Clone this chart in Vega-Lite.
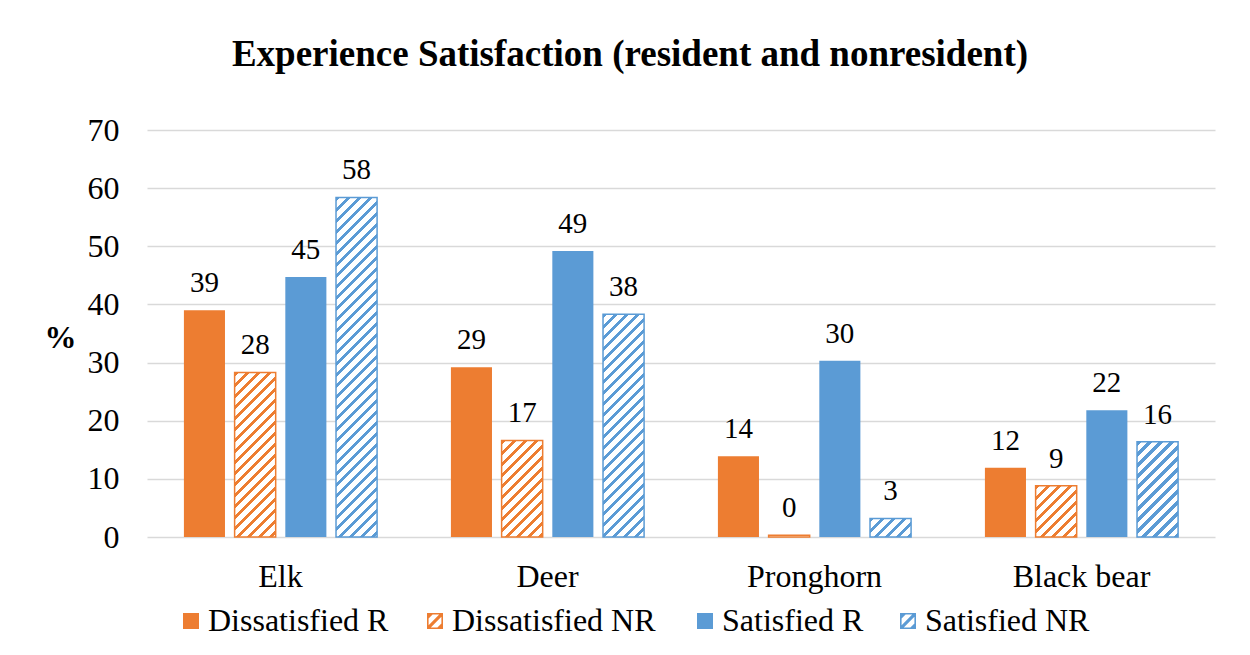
{
"$schema":"https://vega.github.io/schema/vega-lite/v6.json",
"width":1068,"height":407,
"autosize":{"type":"none"},
"padding":{"left":147,"top":130,"right":35,"bottom":118},
"background":"white",
"config":{"font":"Liberation Serif","view":{"stroke":null},"axis":{"labelColor":"#000","titleColor":"#000","labelFont":"Liberation Serif","titleFont":"Liberation Serif"}},
"title":{"text":"Experience Satisfaction (resident and nonresident)","font":"Liberation Serif","fontSize":37,"fontWeight":"bold","color":"#000","offset":40,"dx":-51},
"data":{"values":[
{"animal":"Elk","series":"Dissatisfied R","value":39.0},
{"animal":"Elk","series":"Dissatisfied NR","value":28.3},
{"animal":"Elk","series":"Satisfied R","value":44.7},
{"animal":"Elk","series":"Satisfied NR","value":58.4},
{"animal":"Deer","series":"Dissatisfied R","value":29.2},
{"animal":"Deer","series":"Dissatisfied NR","value":16.6},
{"animal":"Deer","series":"Satisfied R","value":49.2},
{"animal":"Deer","series":"Satisfied NR","value":38.3},
{"animal":"Pronghorn","series":"Dissatisfied R","value":13.9},
{"animal":"Pronghorn","series":"Dissatisfied NR","value":0.3},
{"animal":"Pronghorn","series":"Satisfied R","value":30.3},
{"animal":"Pronghorn","series":"Satisfied NR","value":3.2},
{"animal":"Black bear","series":"Dissatisfied R","value":11.9},
{"animal":"Black bear","series":"Dissatisfied NR","value":8.8},
{"animal":"Black bear","series":"Satisfied R","value":21.8},
{"animal":"Black bear","series":"Satisfied NR","value":16.4}
]},
"encoding":{
"x":{"field":"animal","type":"nominal","sort":["Elk","Deer","Pronghorn","Black bear"],"scale":{"paddingInner":0,"paddingOuter":0},"axis":{"title":null,"labelAngle":0,"labelFontSize":32,"labelPadding":24,"ticks":false,"domain":false,"grid":false}},
"xOffset":{"field":"series","type":"nominal","sort":["Dissatisfied R","Dissatisfied NR","Satisfied R","Satisfied NR"],"scale":{"paddingInner":0.19,"paddingOuter":0.728}},
"y":{"field":"value","type":"quantitative","scale":{"domain":[0,70],"nice":false},"axis":{"values":[0,10,20,30,40,50,60,70],"title":"%","titleAngle":0,"titleFontSize":32,"titleFontWeight":"bold","titleX":-87,"titleY":207,"titleAlign":"center","titleBaseline":"middle","labelFontSize":32,"labelPadding":28,"ticks":false,"domain":false,"gridColor":"#d9d9d9","gridWidth":1.5}}
},
"layer":[
{"mark":{"type":"bar"},
"encoding":{
"stroke":{"field":"series","type":"nominal","scale":{"range":["#ED7D31","#ED7D31","#5B9BD5","#5B9BD5"]},
"legend":{"values":["Dissatisfied R","Satisfied R"],"orient":"none","legendX":28,"legendY":475,"direction":"horizontal","title":null,"symbolType":"square","symbolSize":64,"symbolStrokeWidth":8,"symbolFillColor":"transparent","labelFontSize":32,"labelFont":"Liberation Serif","labelColor":"#000","labelOffset":1,"labelLimit":0,"columnPadding":296,"padding":0,"labelBaseline":"middle"}},
"strokeWidth":{"condition":{"test":"indexof(datum.series,'NR')>=0","value":1.5},"value":0},
"fill":{"field":"series","type":"nominal",
"scale":{"domain":["Dissatisfied R","Dissatisfied NR","Satisfied R","Satisfied NR"],"range":["#ED7D31","#ED7D31","#5B9BD5","#5B9BD5"]},
"legend":{"values":["Dissatisfied NR","Satisfied NR"],"orient":"none","legendX":272,"legendY":475,"direction":"horizontal","title":null,"symbolType":"M-1,-1L1,-1L1,1L-1,1ZM-0.8,-0.8L-0.8,0.8L0.8,0.8L0.8,-0.8ZM-0.8,0.525L-0.8,0.8L-0.525,0.8L0.8,-0.525L0.8,-0.8L0.525,-0.8ZM0.3,0.8L0.8,0.8L0.8,0.3ZM-0.8,-0.3L-0.8,-0.8L-0.3,-0.8Z","symbolSize":256,"symbolStrokeWidth":0,"symbolStrokeColor":"transparent","labelFontSize":32,"labelFont":"Liberation Serif","labelColor":"#000","labelOffset":1,"labelLimit":0,"columnPadding":236,"padding":0,"labelBaseline":"middle"},
"condition":[
{"test":"datum.animal==='Elk' && datum.series==='Dissatisfied NR'","value":{"gradient":"linear","x1":0,"y1":0,"x2":0.31417,"y2":1.25865,"stops":[
{"offset":0,"color":"#ED7D31"},{"offset":0.02,"color":"#ED7D31"},{"offset":0.02,"color":"#fff"},{"offset":0.05,"color":"#fff"},
{"offset":0.05,"color":"#ED7D31"},{"offset":0.07,"color":"#ED7D31"},{"offset":0.07,"color":"#fff"},{"offset":0.1,"color":"#fff"},
{"offset":0.1,"color":"#ED7D31"},{"offset":0.12,"color":"#ED7D31"},{"offset":0.12,"color":"#fff"},{"offset":0.15,"color":"#fff"},
{"offset":0.15,"color":"#ED7D31"},{"offset":0.17,"color":"#ED7D31"},{"offset":0.17,"color":"#fff"},{"offset":0.2,"color":"#fff"},
{"offset":0.2,"color":"#ED7D31"},{"offset":0.22,"color":"#ED7D31"},{"offset":0.22,"color":"#fff"},{"offset":0.25,"color":"#fff"},
{"offset":0.25,"color":"#ED7D31"},{"offset":0.27,"color":"#ED7D31"},{"offset":0.27,"color":"#fff"},{"offset":0.3,"color":"#fff"},
{"offset":0.3,"color":"#ED7D31"},{"offset":0.32,"color":"#ED7D31"},{"offset":0.32,"color":"#fff"},{"offset":0.35,"color":"#fff"},
{"offset":0.35,"color":"#ED7D31"},{"offset":0.37,"color":"#ED7D31"},{"offset":0.37,"color":"#fff"},{"offset":0.4,"color":"#fff"},
{"offset":0.4,"color":"#ED7D31"},{"offset":0.42,"color":"#ED7D31"},{"offset":0.42,"color":"#fff"},{"offset":0.45,"color":"#fff"},
{"offset":0.45,"color":"#ED7D31"},{"offset":0.47,"color":"#ED7D31"},{"offset":0.47,"color":"#fff"},{"offset":0.5,"color":"#fff"},
{"offset":0.5,"color":"#ED7D31"},{"offset":0.52,"color":"#ED7D31"},{"offset":0.52,"color":"#fff"},{"offset":0.55,"color":"#fff"},
{"offset":0.55,"color":"#ED7D31"},{"offset":0.57,"color":"#ED7D31"},{"offset":0.57,"color":"#fff"},{"offset":0.6,"color":"#fff"},
{"offset":0.6,"color":"#ED7D31"},{"offset":0.62,"color":"#ED7D31"},{"offset":0.62,"color":"#fff"},{"offset":0.65,"color":"#fff"},
{"offset":0.65,"color":"#ED7D31"},{"offset":0.67,"color":"#ED7D31"},{"offset":0.67,"color":"#fff"},{"offset":0.7,"color":"#fff"},
{"offset":0.7,"color":"#ED7D31"},{"offset":0.72,"color":"#ED7D31"},{"offset":0.72,"color":"#fff"},{"offset":0.75,"color":"#fff"},
{"offset":0.75,"color":"#ED7D31"},{"offset":0.77,"color":"#ED7D31"},{"offset":0.77,"color":"#fff"},{"offset":0.8,"color":"#fff"},
{"offset":0.8,"color":"#ED7D31"},{"offset":0.82,"color":"#ED7D31"},{"offset":0.82,"color":"#fff"},{"offset":0.85,"color":"#fff"},
{"offset":0.85,"color":"#ED7D31"},{"offset":0.87,"color":"#ED7D31"},{"offset":0.87,"color":"#fff"},{"offset":0.9,"color":"#fff"},
{"offset":0.9,"color":"#ED7D31"},{"offset":0.92,"color":"#ED7D31"},{"offset":0.92,"color":"#fff"},{"offset":0.95,"color":"#fff"},
{"offset":0.95,"color":"#ED7D31"},{"offset":0.97,"color":"#ED7D31"},{"offset":0.97,"color":"#fff"},{"offset":1,"color":"#fff"}]}},
{"test":"datum.animal==='Elk' && datum.series==='Satisfied NR'","value":{"gradient":"linear","x1":0,"y1":0,"x2":0.15448,"y2":1.27715,"stops":[
{"offset":0,"color":"#5B9BD5"},{"offset":0.01,"color":"#5B9BD5"},{"offset":0.01,"color":"#fff"},{"offset":0.025,"color":"#fff"},
{"offset":0.025,"color":"#5B9BD5"},{"offset":0.035,"color":"#5B9BD5"},{"offset":0.035,"color":"#fff"},{"offset":0.05,"color":"#fff"},
{"offset":0.05,"color":"#5B9BD5"},{"offset":0.06,"color":"#5B9BD5"},{"offset":0.06,"color":"#fff"},{"offset":0.075,"color":"#fff"},
{"offset":0.075,"color":"#5B9BD5"},{"offset":0.085,"color":"#5B9BD5"},{"offset":0.085,"color":"#fff"},{"offset":0.1,"color":"#fff"},
{"offset":0.1,"color":"#5B9BD5"},{"offset":0.11,"color":"#5B9BD5"},{"offset":0.11,"color":"#fff"},{"offset":0.125,"color":"#fff"},
{"offset":0.125,"color":"#5B9BD5"},{"offset":0.135,"color":"#5B9BD5"},{"offset":0.135,"color":"#fff"},{"offset":0.15,"color":"#fff"},
{"offset":0.15,"color":"#5B9BD5"},{"offset":0.16,"color":"#5B9BD5"},{"offset":0.16,"color":"#fff"},{"offset":0.175,"color":"#fff"},
{"offset":0.175,"color":"#5B9BD5"},{"offset":0.185,"color":"#5B9BD5"},{"offset":0.185,"color":"#fff"},{"offset":0.2,"color":"#fff"},
{"offset":0.2,"color":"#5B9BD5"},{"offset":0.21,"color":"#5B9BD5"},{"offset":0.21,"color":"#fff"},{"offset":0.225,"color":"#fff"},
{"offset":0.225,"color":"#5B9BD5"},{"offset":0.235,"color":"#5B9BD5"},{"offset":0.235,"color":"#fff"},{"offset":0.25,"color":"#fff"},
{"offset":0.25,"color":"#5B9BD5"},{"offset":0.26,"color":"#5B9BD5"},{"offset":0.26,"color":"#fff"},{"offset":0.275,"color":"#fff"},
{"offset":0.275,"color":"#5B9BD5"},{"offset":0.285,"color":"#5B9BD5"},{"offset":0.285,"color":"#fff"},{"offset":0.3,"color":"#fff"},
{"offset":0.3,"color":"#5B9BD5"},{"offset":0.31,"color":"#5B9BD5"},{"offset":0.31,"color":"#fff"},{"offset":0.325,"color":"#fff"},
{"offset":0.325,"color":"#5B9BD5"},{"offset":0.335,"color":"#5B9BD5"},{"offset":0.335,"color":"#fff"},{"offset":0.35,"color":"#fff"},
{"offset":0.35,"color":"#5B9BD5"},{"offset":0.36,"color":"#5B9BD5"},{"offset":0.36,"color":"#fff"},{"offset":0.375,"color":"#fff"},
{"offset":0.375,"color":"#5B9BD5"},{"offset":0.385,"color":"#5B9BD5"},{"offset":0.385,"color":"#fff"},{"offset":0.4,"color":"#fff"},
{"offset":0.4,"color":"#5B9BD5"},{"offset":0.41,"color":"#5B9BD5"},{"offset":0.41,"color":"#fff"},{"offset":0.425,"color":"#fff"},
{"offset":0.425,"color":"#5B9BD5"},{"offset":0.435,"color":"#5B9BD5"},{"offset":0.435,"color":"#fff"},{"offset":0.45,"color":"#fff"},
{"offset":0.45,"color":"#5B9BD5"},{"offset":0.46,"color":"#5B9BD5"},{"offset":0.46,"color":"#fff"},{"offset":0.475,"color":"#fff"},
{"offset":0.475,"color":"#5B9BD5"},{"offset":0.485,"color":"#5B9BD5"},{"offset":0.485,"color":"#fff"},{"offset":0.5,"color":"#fff"},
{"offset":0.5,"color":"#5B9BD5"},{"offset":0.51,"color":"#5B9BD5"},{"offset":0.51,"color":"#fff"},{"offset":0.525,"color":"#fff"},
{"offset":0.525,"color":"#5B9BD5"},{"offset":0.535,"color":"#5B9BD5"},{"offset":0.535,"color":"#fff"},{"offset":0.55,"color":"#fff"},
{"offset":0.55,"color":"#5B9BD5"},{"offset":0.56,"color":"#5B9BD5"},{"offset":0.56,"color":"#fff"},{"offset":0.575,"color":"#fff"},
{"offset":0.575,"color":"#5B9BD5"},{"offset":0.585,"color":"#5B9BD5"},{"offset":0.585,"color":"#fff"},{"offset":0.6,"color":"#fff"},
{"offset":0.6,"color":"#5B9BD5"},{"offset":0.61,"color":"#5B9BD5"},{"offset":0.61,"color":"#fff"},{"offset":0.625,"color":"#fff"},
{"offset":0.625,"color":"#5B9BD5"},{"offset":0.635,"color":"#5B9BD5"},{"offset":0.635,"color":"#fff"},{"offset":0.65,"color":"#fff"},
{"offset":0.65,"color":"#5B9BD5"},{"offset":0.66,"color":"#5B9BD5"},{"offset":0.66,"color":"#fff"},{"offset":0.675,"color":"#fff"},
{"offset":0.675,"color":"#5B9BD5"},{"offset":0.685,"color":"#5B9BD5"},{"offset":0.685,"color":"#fff"},{"offset":0.7,"color":"#fff"},
{"offset":0.7,"color":"#5B9BD5"},{"offset":0.71,"color":"#5B9BD5"},{"offset":0.71,"color":"#fff"},{"offset":0.725,"color":"#fff"},
{"offset":0.725,"color":"#5B9BD5"},{"offset":0.735,"color":"#5B9BD5"},{"offset":0.735,"color":"#fff"},{"offset":0.75,"color":"#fff"},
{"offset":0.75,"color":"#5B9BD5"},{"offset":0.76,"color":"#5B9BD5"},{"offset":0.76,"color":"#fff"},{"offset":0.775,"color":"#fff"},
{"offset":0.775,"color":"#5B9BD5"},{"offset":0.785,"color":"#5B9BD5"},{"offset":0.785,"color":"#fff"},{"offset":0.8,"color":"#fff"},
{"offset":0.8,"color":"#5B9BD5"},{"offset":0.81,"color":"#5B9BD5"},{"offset":0.81,"color":"#fff"},{"offset":0.825,"color":"#fff"},
{"offset":0.825,"color":"#5B9BD5"},{"offset":0.835,"color":"#5B9BD5"},{"offset":0.835,"color":"#fff"},{"offset":0.85,"color":"#fff"},
{"offset":0.85,"color":"#5B9BD5"},{"offset":0.86,"color":"#5B9BD5"},{"offset":0.86,"color":"#fff"},{"offset":0.875,"color":"#fff"},
{"offset":0.875,"color":"#5B9BD5"},{"offset":0.885,"color":"#5B9BD5"},{"offset":0.885,"color":"#fff"},{"offset":0.9,"color":"#fff"}]}},
{"test":"datum.animal==='Deer' && datum.series==='Dissatisfied NR'","value":{"gradient":"linear","x1":0,"y1":0,"x2":0.65695,"y2":1.54393,"stops":[
{"offset":0,"color":"#ED7D31"},{"offset":0.025,"color":"#ED7D31"},{"offset":0.025,"color":"#fff"},{"offset":0.0625,"color":"#fff"},
{"offset":0.0625,"color":"#ED7D31"},{"offset":0.0875,"color":"#ED7D31"},{"offset":0.0875,"color":"#fff"},{"offset":0.125,"color":"#fff"},
{"offset":0.125,"color":"#ED7D31"},{"offset":0.15,"color":"#ED7D31"},{"offset":0.15,"color":"#fff"},{"offset":0.1875,"color":"#fff"},
{"offset":0.1875,"color":"#ED7D31"},{"offset":0.2125,"color":"#ED7D31"},{"offset":0.2125,"color":"#fff"},{"offset":0.25,"color":"#fff"},
{"offset":0.25,"color":"#ED7D31"},{"offset":0.275,"color":"#ED7D31"},{"offset":0.275,"color":"#fff"},{"offset":0.3125,"color":"#fff"},
{"offset":0.3125,"color":"#ED7D31"},{"offset":0.3375,"color":"#ED7D31"},{"offset":0.3375,"color":"#fff"},{"offset":0.375,"color":"#fff"},
{"offset":0.375,"color":"#ED7D31"},{"offset":0.4,"color":"#ED7D31"},{"offset":0.4,"color":"#fff"},{"offset":0.4375,"color":"#fff"},
{"offset":0.4375,"color":"#ED7D31"},{"offset":0.4625,"color":"#ED7D31"},{"offset":0.4625,"color":"#fff"},{"offset":0.5,"color":"#fff"},
{"offset":0.5,"color":"#ED7D31"},{"offset":0.525,"color":"#ED7D31"},{"offset":0.525,"color":"#fff"},{"offset":0.5625,"color":"#fff"},
{"offset":0.5625,"color":"#ED7D31"},{"offset":0.5875,"color":"#ED7D31"},{"offset":0.5875,"color":"#fff"},{"offset":0.625,"color":"#fff"},
{"offset":0.625,"color":"#ED7D31"},{"offset":0.65,"color":"#ED7D31"},{"offset":0.65,"color":"#fff"},{"offset":0.6875,"color":"#fff"},
{"offset":0.6875,"color":"#ED7D31"},{"offset":0.7125,"color":"#ED7D31"},{"offset":0.7125,"color":"#fff"},{"offset":0.75,"color":"#fff"},
{"offset":0.75,"color":"#ED7D31"},{"offset":0.775,"color":"#ED7D31"},{"offset":0.775,"color":"#fff"},{"offset":0.8125,"color":"#fff"},
{"offset":0.8125,"color":"#ED7D31"},{"offset":0.8375,"color":"#ED7D31"},{"offset":0.8375,"color":"#fff"},{"offset":0.875,"color":"#fff"}]}},
{"test":"datum.animal==='Deer' && datum.series==='Satisfied NR'","value":{"gradient":"linear","x1":0,"y1":0,"x2":0.35241,"y2":1.91085,"stops":[
{"offset":0,"color":"#5B9BD5"},{"offset":0.01,"color":"#5B9BD5"},{"offset":0.01,"color":"#fff"},{"offset":0.025,"color":"#fff"},
{"offset":0.025,"color":"#5B9BD5"},{"offset":0.035,"color":"#5B9BD5"},{"offset":0.035,"color":"#fff"},{"offset":0.05,"color":"#fff"},
{"offset":0.05,"color":"#5B9BD5"},{"offset":0.06,"color":"#5B9BD5"},{"offset":0.06,"color":"#fff"},{"offset":0.075,"color":"#fff"},
{"offset":0.075,"color":"#5B9BD5"},{"offset":0.085,"color":"#5B9BD5"},{"offset":0.085,"color":"#fff"},{"offset":0.1,"color":"#fff"},
{"offset":0.1,"color":"#5B9BD5"},{"offset":0.11,"color":"#5B9BD5"},{"offset":0.11,"color":"#fff"},{"offset":0.125,"color":"#fff"},
{"offset":0.125,"color":"#5B9BD5"},{"offset":0.135,"color":"#5B9BD5"},{"offset":0.135,"color":"#fff"},{"offset":0.15,"color":"#fff"},
{"offset":0.15,"color":"#5B9BD5"},{"offset":0.16,"color":"#5B9BD5"},{"offset":0.16,"color":"#fff"},{"offset":0.175,"color":"#fff"},
{"offset":0.175,"color":"#5B9BD5"},{"offset":0.185,"color":"#5B9BD5"},{"offset":0.185,"color":"#fff"},{"offset":0.2,"color":"#fff"},
{"offset":0.2,"color":"#5B9BD5"},{"offset":0.21,"color":"#5B9BD5"},{"offset":0.21,"color":"#fff"},{"offset":0.225,"color":"#fff"},
{"offset":0.225,"color":"#5B9BD5"},{"offset":0.235,"color":"#5B9BD5"},{"offset":0.235,"color":"#fff"},{"offset":0.25,"color":"#fff"},
{"offset":0.25,"color":"#5B9BD5"},{"offset":0.26,"color":"#5B9BD5"},{"offset":0.26,"color":"#fff"},{"offset":0.275,"color":"#fff"},
{"offset":0.275,"color":"#5B9BD5"},{"offset":0.285,"color":"#5B9BD5"},{"offset":0.285,"color":"#fff"},{"offset":0.3,"color":"#fff"},
{"offset":0.3,"color":"#5B9BD5"},{"offset":0.31,"color":"#5B9BD5"},{"offset":0.31,"color":"#fff"},{"offset":0.325,"color":"#fff"},
{"offset":0.325,"color":"#5B9BD5"},{"offset":0.335,"color":"#5B9BD5"},{"offset":0.335,"color":"#fff"},{"offset":0.35,"color":"#fff"},
{"offset":0.35,"color":"#5B9BD5"},{"offset":0.36,"color":"#5B9BD5"},{"offset":0.36,"color":"#fff"},{"offset":0.375,"color":"#fff"},
{"offset":0.375,"color":"#5B9BD5"},{"offset":0.385,"color":"#5B9BD5"},{"offset":0.385,"color":"#fff"},{"offset":0.4,"color":"#fff"},
{"offset":0.4,"color":"#5B9BD5"},{"offset":0.41,"color":"#5B9BD5"},{"offset":0.41,"color":"#fff"},{"offset":0.425,"color":"#fff"},
{"offset":0.425,"color":"#5B9BD5"},{"offset":0.435,"color":"#5B9BD5"},{"offset":0.435,"color":"#fff"},{"offset":0.45,"color":"#fff"},
{"offset":0.45,"color":"#5B9BD5"},{"offset":0.46,"color":"#5B9BD5"},{"offset":0.46,"color":"#fff"},{"offset":0.475,"color":"#fff"},
{"offset":0.475,"color":"#5B9BD5"},{"offset":0.485,"color":"#5B9BD5"},{"offset":0.485,"color":"#fff"},{"offset":0.5,"color":"#fff"},
{"offset":0.5,"color":"#5B9BD5"},{"offset":0.51,"color":"#5B9BD5"},{"offset":0.51,"color":"#fff"},{"offset":0.525,"color":"#fff"},
{"offset":0.525,"color":"#5B9BD5"},{"offset":0.535,"color":"#5B9BD5"},{"offset":0.535,"color":"#fff"},{"offset":0.55,"color":"#fff"},
{"offset":0.55,"color":"#5B9BD5"},{"offset":0.56,"color":"#5B9BD5"},{"offset":0.56,"color":"#fff"},{"offset":0.575,"color":"#fff"},
{"offset":0.575,"color":"#5B9BD5"},{"offset":0.585,"color":"#5B9BD5"},{"offset":0.585,"color":"#fff"},{"offset":0.6,"color":"#fff"},
{"offset":0.6,"color":"#5B9BD5"},{"offset":0.61,"color":"#5B9BD5"},{"offset":0.61,"color":"#fff"},{"offset":0.625,"color":"#fff"}]}},
{"test":"datum.animal==='Pronghorn' && datum.series==='Dissatisfied NR'","value":"#ffffff"},
{"test":"datum.animal==='Pronghorn' && datum.series==='Satisfied NR'","value":{"gradient":"linear","x1":0,"y1":0,"x2":2.22219,"y2":1.00694,"stops":[
{"offset":0,"color":"#5B9BD5"},{"offset":0.04,"color":"#5B9BD5"},{"offset":0.04,"color":"#fff"},{"offset":0.1,"color":"#fff"},
{"offset":0.1,"color":"#5B9BD5"},{"offset":0.14,"color":"#5B9BD5"},{"offset":0.14,"color":"#fff"},{"offset":0.2,"color":"#fff"},
{"offset":0.2,"color":"#5B9BD5"},{"offset":0.24,"color":"#5B9BD5"},{"offset":0.24,"color":"#fff"},{"offset":0.3,"color":"#fff"},
{"offset":0.3,"color":"#5B9BD5"},{"offset":0.34,"color":"#5B9BD5"},{"offset":0.34,"color":"#fff"},{"offset":0.4,"color":"#fff"},
{"offset":0.4,"color":"#5B9BD5"},{"offset":0.44,"color":"#5B9BD5"},{"offset":0.44,"color":"#fff"},{"offset":0.5,"color":"#fff"},
{"offset":0.5,"color":"#5B9BD5"},{"offset":0.54,"color":"#5B9BD5"},{"offset":0.54,"color":"#fff"},{"offset":0.6,"color":"#fff"}]}},
{"test":"datum.animal==='Black bear' && datum.series==='Dissatisfied NR'","value":{"gradient":"linear","x1":0,"y1":0,"x2":1.04938,"y2":1.30745,"stops":[
{"offset":0,"color":"#ED7D31"},{"offset":0.04,"color":"#ED7D31"},{"offset":0.04,"color":"#fff"},{"offset":0.1,"color":"#fff"},
{"offset":0.1,"color":"#ED7D31"},{"offset":0.14,"color":"#ED7D31"},{"offset":0.14,"color":"#fff"},{"offset":0.2,"color":"#fff"},
{"offset":0.2,"color":"#ED7D31"},{"offset":0.24,"color":"#ED7D31"},{"offset":0.24,"color":"#fff"},{"offset":0.3,"color":"#fff"},
{"offset":0.3,"color":"#ED7D31"},{"offset":0.34,"color":"#ED7D31"},{"offset":0.34,"color":"#fff"},{"offset":0.4,"color":"#fff"},
{"offset":0.4,"color":"#ED7D31"},{"offset":0.44,"color":"#ED7D31"},{"offset":0.44,"color":"#fff"},{"offset":0.5,"color":"#fff"},
{"offset":0.5,"color":"#ED7D31"},{"offset":0.54,"color":"#ED7D31"},{"offset":0.54,"color":"#fff"},{"offset":0.6,"color":"#fff"},
{"offset":0.6,"color":"#ED7D31"},{"offset":0.64,"color":"#ED7D31"},{"offset":0.64,"color":"#fff"},{"offset":0.7,"color":"#fff"},
{"offset":0.7,"color":"#ED7D31"},{"offset":0.74,"color":"#ED7D31"},{"offset":0.74,"color":"#fff"},{"offset":0.8,"color":"#fff"},
{"offset":0.8,"color":"#ED7D31"},{"offset":0.84,"color":"#ED7D31"},{"offset":0.84,"color":"#fff"},{"offset":0.9,"color":"#fff"},
{"offset":0.9,"color":"#ED7D31"},{"offset":0.94,"color":"#ED7D31"},{"offset":0.94,"color":"#fff"},{"offset":1,"color":"#fff"}]}},
{"test":"datum.animal==='Black bear' && datum.series==='Satisfied NR'","value":{"gradient":"linear","x1":0,"y1":0,"x2":0.67063,"y2":1.55698,"stops":[
{"offset":0,"color":"#5B9BD5"},{"offset":0.025,"color":"#5B9BD5"},{"offset":0.025,"color":"#fff"},{"offset":0.0625,"color":"#fff"},
{"offset":0.0625,"color":"#5B9BD5"},{"offset":0.0875,"color":"#5B9BD5"},{"offset":0.0875,"color":"#fff"},{"offset":0.125,"color":"#fff"},
{"offset":0.125,"color":"#5B9BD5"},{"offset":0.15,"color":"#5B9BD5"},{"offset":0.15,"color":"#fff"},{"offset":0.1875,"color":"#fff"},
{"offset":0.1875,"color":"#5B9BD5"},{"offset":0.2125,"color":"#5B9BD5"},{"offset":0.2125,"color":"#fff"},{"offset":0.25,"color":"#fff"},
{"offset":0.25,"color":"#5B9BD5"},{"offset":0.275,"color":"#5B9BD5"},{"offset":0.275,"color":"#fff"},{"offset":0.3125,"color":"#fff"},
{"offset":0.3125,"color":"#5B9BD5"},{"offset":0.3375,"color":"#5B9BD5"},{"offset":0.3375,"color":"#fff"},{"offset":0.375,"color":"#fff"},
{"offset":0.375,"color":"#5B9BD5"},{"offset":0.4,"color":"#5B9BD5"},{"offset":0.4,"color":"#fff"},{"offset":0.4375,"color":"#fff"},
{"offset":0.4375,"color":"#5B9BD5"},{"offset":0.4625,"color":"#5B9BD5"},{"offset":0.4625,"color":"#fff"},{"offset":0.5,"color":"#fff"},
{"offset":0.5,"color":"#5B9BD5"},{"offset":0.525,"color":"#5B9BD5"},{"offset":0.525,"color":"#fff"},{"offset":0.5625,"color":"#fff"},
{"offset":0.5625,"color":"#5B9BD5"},{"offset":0.5875,"color":"#5B9BD5"},{"offset":0.5875,"color":"#fff"},{"offset":0.625,"color":"#fff"},
{"offset":0.625,"color":"#5B9BD5"},{"offset":0.65,"color":"#5B9BD5"},{"offset":0.65,"color":"#fff"},{"offset":0.6875,"color":"#fff"},
{"offset":0.6875,"color":"#5B9BD5"},{"offset":0.7125,"color":"#5B9BD5"},{"offset":0.7125,"color":"#fff"},{"offset":0.75,"color":"#fff"},
{"offset":0.75,"color":"#5B9BD5"},{"offset":0.775,"color":"#5B9BD5"},{"offset":0.775,"color":"#fff"},{"offset":0.8125,"color":"#fff"},
{"offset":0.8125,"color":"#5B9BD5"},{"offset":0.8375,"color":"#5B9BD5"},{"offset":0.8375,"color":"#fff"},{"offset":0.875,"color":"#fff"}]}}
]}
}},
{"mark":{"type":"text","baseline":"alphabetic","dy":-18,"fontSize":29,"font":"Liberation Serif","color":"#000"},
"encoding":{"text":{"field":"value","type":"quantitative","format":".0f"}}}
]
}
